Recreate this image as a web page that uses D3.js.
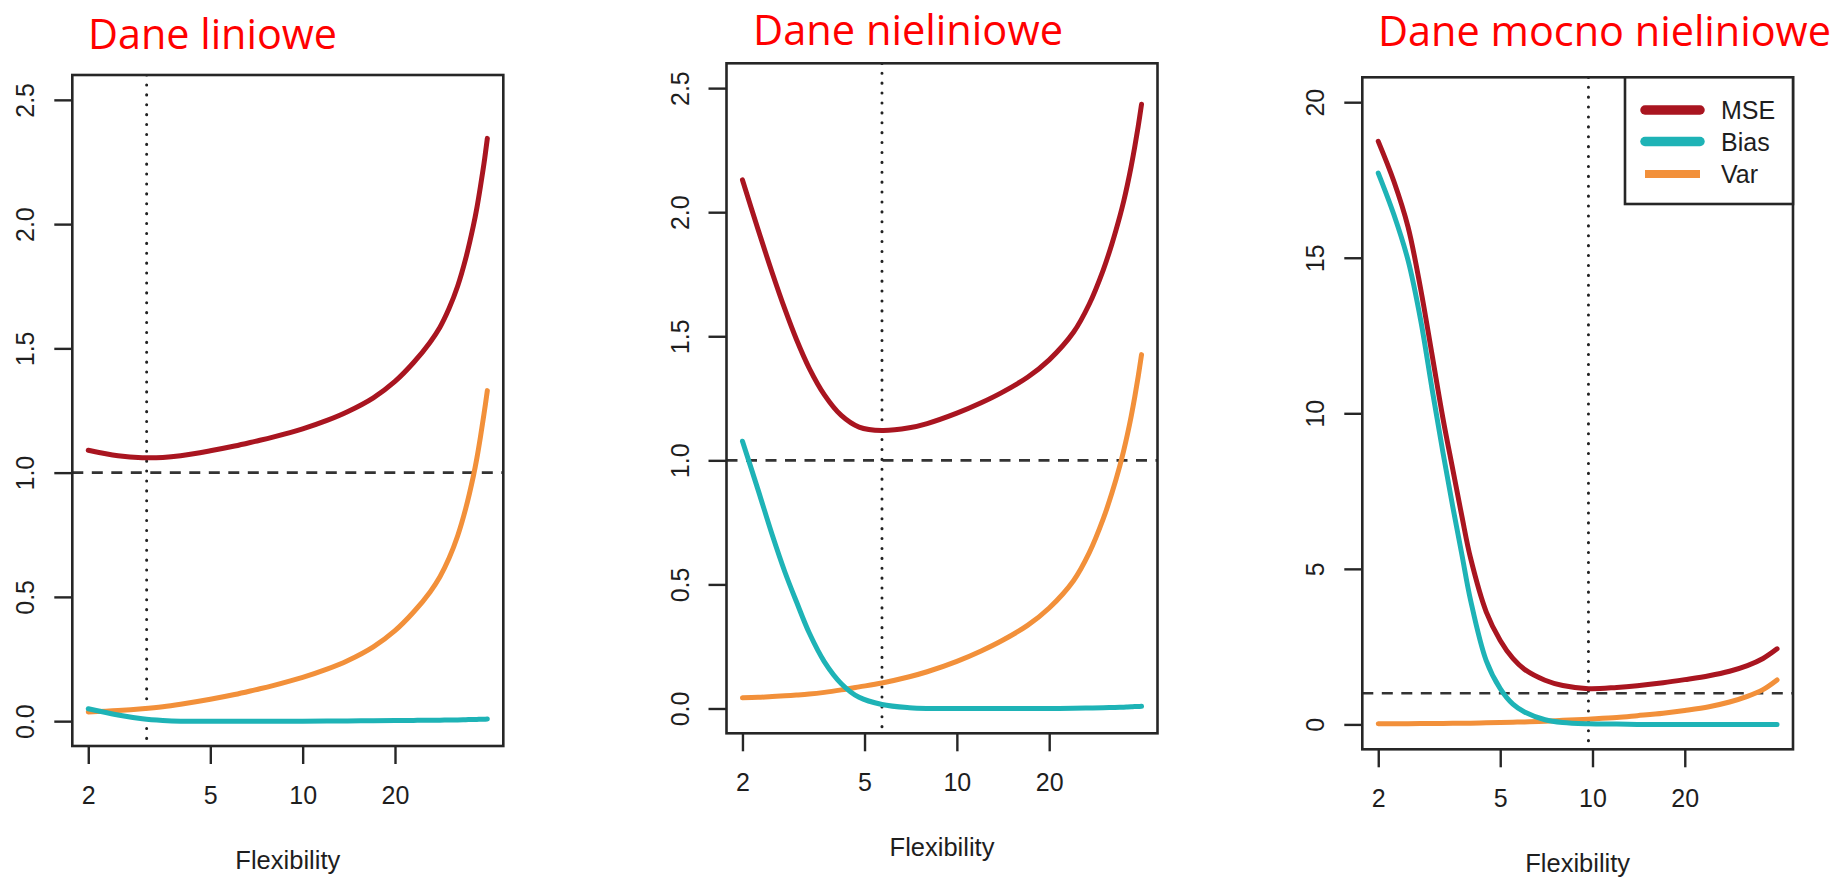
<!DOCTYPE html>
<html>
<head>
<meta charset="utf-8">
<script src="https://cdn.jsdelivr.net/npm/d3@7"></script>
<style>
  html, body { margin: 0; padding: 0; background: #ffffff; }
  svg { display: block; }
  .tick text { font-family: "Liberation Sans", Arial, sans-serif; font-size: 25px; fill: #1e1e1e; }
</style>
</head>
<body>
<svg id="chart" width="1842" height="877"></svg>
<script>
// ---- Data: test error decomposition against model flexibility ----
const seriesNames = ["MSE", "Bias", "Var"];
const seriesColors = ["#a91520", "#1eb3b6", "#f2903a"];

const panelTitles = ["Dane liniowe", "Dane nieliniowe", "Dane mocno nieliniowe"];
const axisTitle = "Flexibility";
const bestFlexibility = [3.1, 5.7, 9.7];
const irreducibleError = 1;

const xTicks = [2, 5, 10, 20];
const yTicksSmall = [0, 0.5, 1, 1.5, 2, 2.5];
const yTickLabelsSmall = ["0.0", "0.5", "1.0", "1.5", "2.0", "2.5"];
const yTicksLarge = [0, 5, 10, 15, 20];
const yTickLabelsLarge = ["0", "5", "10", "15", "20"];

// Panel 1: linear truth
const flex1 = [2, 2.5, 3, 3.5, 4, 5, 6, 7, 8, 10, 12, 14, 17, 20, 23, 26, 28, 30, 32, 34, 36, 37, 38, 39, 40];
const mse1  = [1.09, 1.068, 1.06, 1.061, 1.068, 1.088, 1.107, 1.126, 1.143, 1.176, 1.21, 1.245, 1.301, 1.367, 1.443, 1.524, 1.584, 1.66, 1.75, 1.861, 1.992, 2.067, 2.153, 2.243, 2.345];
const bias1 = [0.05, 0.025, 0.01, 0.003, 0.0, 0.0, 0.0, 0.0, 0.0, 0.0, 0.001, 0.001, 0.002, 0.003, 0.003, 0.004, 0.004, 0.005, 0.005, 0.006, 0.007, 0.007, 0.008, 0.008, 0.009];
const var1  = [0.037, 0.043, 0.05, 0.058, 0.068, 0.088, 0.107, 0.126, 0.143, 0.176, 0.209, 0.243, 0.299, 0.364, 0.439, 0.519, 0.58, 0.655, 0.745, 0.855, 0.985, 1.06, 1.145, 1.235, 1.33];

// Panel 2: moderately non-linear truth
const flex2 = [2, 2.25, 2.5, 2.75, 3, 3.3, 3.7, 4.2, 4.8, 5.7, 7, 8, 10, 12, 14, 17, 20, 24, 27, 30, 32, 34, 35, 36, 37, 38, 39, 40];
const mse2  = [2.13, 1.929, 1.756, 1.609, 1.487, 1.372, 1.264, 1.181, 1.134, 1.12, 1.131, 1.148, 1.19, 1.232, 1.273, 1.335, 1.405, 1.516, 1.629, 1.767, 1.871, 1.984, 2.045, 2.112, 2.184, 2.262, 2.345, 2.435];
const bias2 = [1.077, 0.88, 0.70, 0.55, 0.43, 0.305, 0.188, 0.10, 0.045, 0.016, 0.003, 0.0, 0.0, 0.0, 0.0, 0.0, 0.0, 0.001, 0.002, 0.003, 0.004, 0.005, 0.005, 0.006, 0.007, 0.008, 0.008, 0.009];
const var2  = [0.043, 0.045, 0.048, 0.051, 0.054, 0.058, 0.065, 0.075, 0.087, 0.103, 0.128, 0.148, 0.19, 0.232, 0.273, 0.335, 0.405, 0.515, 0.627, 0.764, 0.867, 0.979, 1.04, 1.106, 1.177, 1.254, 1.337, 1.426];

// Panel 3: strongly non-linear truth
const flex3 = [2, 2.25, 2.5, 2.75, 3, 3.25, 3.5, 3.75, 4, 4.5, 5, 5.5, 6, 7, 8, 9.7, 12, 14, 17, 20, 24, 28, 32, 36, 40];
const mse3  = [18.74, 17.45, 16.0, 14.0, 11.85, 9.85, 8.2, 6.68, 5.35, 3.62, 2.7, 2.12, 1.77, 1.42, 1.25, 1.15, 1.19, 1.245, 1.34, 1.44, 1.565, 1.71, 1.89, 2.12, 2.43];
const bias3 = [17.72, 16.38, 14.93, 13.0, 10.75, 8.75, 7.0, 5.45, 4.0, 2.05, 1.15, 0.65, 0.4, 0.15, 0.06, 0.02, 0.01, 0.0, 0.0, 0.0, 0.0, 0.0, 0.0, 0.0, 0.0];
const var3  = [0.02, 0.022, 0.025, 0.027, 0.03, 0.032, 0.035, 0.037, 0.04, 0.05, 0.06, 0.07, 0.08, 0.1, 0.13, 0.17, 0.22, 0.28, 0.36, 0.45, 0.57, 0.72, 0.9, 1.12, 1.43];

// ---- Layout ----
const frames = [
  { x0: 72.3,   x1: 503.3,  y0: 75,   y1: 746,   titleX: 212.5,  titleY: 49, titleW: 249 },
  { x0: 726.5,  x1: 1157.5, y0: 63.3, y1: 733.3, titleX: 908,    titleY: 45, titleW: 310 },
  { x0: 1362.3, x1: 1793,   y0: 77.3, y1: 749.3, titleX: 1604.5, titleY: 46, titleW: 453 }
];

const panels = [
  { flex: flex1, series: [mse1, bias1, var1], yMax: 2.5, ticks: yTicksSmall, labels: yTickLabelsSmall, legend: false },
  { flex: flex2, series: [mse2, bias2, var2], yMax: 2.5, ticks: yTicksSmall, labels: yTickLabelsSmall, legend: false },
  { flex: flex3, series: [mse3, bias3, var3], yMax: 20,  ticks: yTicksLarge, labels: yTickLabelsLarge, legend: true }
];

const svg = d3.select("#chart");
const ink = "#262626";

// R-style 4% padding on each side of the data range
function padded(lo, hi, logScale) {
  if (logScale) {
    const a = Math.log10(lo), b = Math.log10(hi), p = (b - a) * 0.04;
    return [Math.pow(10, a - p), Math.pow(10, b + p)];
  }
  const p = (hi - lo) * 0.04;
  return [lo - p, hi + p];
}

panels.forEach((panel, i) => {
  const f = frames[i];
  const g = svg.append("g");

  const x = d3.scaleLog()
    .domain(padded(d3.min(panel.flex), d3.max(panel.flex), true))
    .range([f.x0, f.x1]);
  const y = d3.scaleLinear()
    .domain(padded(0, panel.yMax, false))
    .range([f.y1, f.y0]);

  const clipId = "clip" + i;
  g.append("clipPath").attr("id", clipId)
    .append("rect")
    .attr("x", f.x0).attr("y", f.y0)
    .attr("width", f.x1 - f.x0).attr("height", f.y1 - f.y0);

  const plot = g.append("g").attr("clip-path", `url(#${clipId})`);

  // irreducible error reference
  plot.append("line")
    .attr("x1", f.x0).attr("x2", f.x1)
    .attr("y1", y(irreducibleError)).attr("y2", y(irreducibleError))
    .attr("stroke", "#333").attr("stroke-width", 2.6)
    .attr("stroke-dasharray", "11,8.5");

  // flexibility with the lowest test MSE
  plot.append("line")
    .attr("x1", x(bestFlexibility[i])).attr("x2", x(bestFlexibility[i]))
    .attr("y1", f.y0).attr("y2", f.y1)
    .attr("stroke", "#222").attr("stroke-width", 3)
    .attr("stroke-linecap", "round")
    .attr("stroke-dasharray", "0.1,9.8");

  const line = d3.line()
    .x(d => x(d[0]))
    .y(d => y(d[1]))
    .curve(d3.curveCatmullRom.alpha(0.5));

  // draw Var, Bias, then MSE on top
  [2, 1, 0].forEach(k => {
    const pts = panel.flex.map((v, j) => [v, panel.series[k][j]]);
    plot.append("path")
      .datum(pts)
      .attr("d", line)
      .attr("fill", "none")
      .attr("stroke", seriesColors[k])
      .attr("stroke-width", 5)
      .attr("stroke-linecap", "round")
      .attr("stroke-linejoin", "round");
  });

  // axes
  const xAxis = g.append("g")
    .attr("transform", `translate(0,${f.y1})`)
    .call(d3.axisBottom(x).tickValues(xTicks).tickFormat(d3.format("d")).tickSize(18));
  xAxis.select(".domain").remove();
  xAxis.selectAll(".tick line").attr("stroke", ink).attr("stroke-width", 2.4);
  xAxis.selectAll(".tick text").attr("y", 58).attr("dy", 0);

  const yAxis = g.append("g")
    .attr("transform", `translate(${f.x0},0)`)
    .call(d3.axisLeft(y).tickValues(panel.ticks)
      .tickFormat((d, j) => panel.labels[j]).tickSize(18));
  yAxis.select(".domain").remove();
  yAxis.selectAll(".tick line").attr("stroke", ink).attr("stroke-width", 2.4);
  yAxis.selectAll(".tick text")
    .attr("x", 0).attr("y", -38).attr("dy", 0)
    .attr("text-anchor", "middle")
    .attr("transform", "rotate(-90)");

  // frame
  g.append("rect")
    .attr("x", f.x0).attr("y", f.y0)
    .attr("width", f.x1 - f.x0).attr("height", f.y1 - f.y0)
    .attr("fill", "none").attr("stroke", ink).attr("stroke-width", 2.6);

  // axis title
  g.append("text")
    .attr("x", (f.x0 + f.x1) / 2).attr("y", f.y1 + 123)
    .attr("text-anchor", "middle")
    .attr("font-family", "Liberation Sans, Arial, sans-serif")
    .attr("font-size", 25.5).attr("fill", "#1e1e1e")
    .text(axisTitle);

  // panel heading
  g.append("text")
    .attr("x", f.titleX).attr("y", f.titleY)
    .attr("text-anchor", "middle")
    .attr("font-family", "Open Sans, Lato, sans-serif")
    .attr("font-size", 42).attr("fill", "#ff0000")
    .attr("textLength", f.titleW).attr("lengthAdjust", "spacingAndGlyphs")
    .text(panelTitles[i]);

  if (panel.legend) {
    const lx0 = 1625, ly0 = f.y0, lx1 = f.x1, ly1 = 204;
    const lg = g.append("g");
    lg.append("rect")
      .attr("x", lx0).attr("y", ly0)
      .attr("width", lx1 - lx0).attr("height", ly1 - ly0)
      .attr("fill", "#fff").attr("stroke", ink).attr("stroke-width", 2.6);
    const rowY = [110, 141.5, 174];
    const rowW = [9.5, 9.5, 8];
    const caps = ["round", "round", "butt"];
    seriesNames.forEach((name, k) => {
      lg.append("line")
        .attr("x1", 1645).attr("x2", 1700)
        .attr("y1", rowY[k]).attr("y2", rowY[k])
        .attr("stroke", seriesColors[k]).attr("stroke-width", rowW[k])
        .attr("stroke-linecap", caps[k]);
      lg.append("text")
        .attr("x", 1721).attr("y", rowY[k] + 9)
        .attr("font-family", "Liberation Sans, Arial, sans-serif")
        .attr("font-size", 25).attr("fill", "#1e1e1e")
        .text(name);
    });
  }
});
</script>
</body>
</html>
